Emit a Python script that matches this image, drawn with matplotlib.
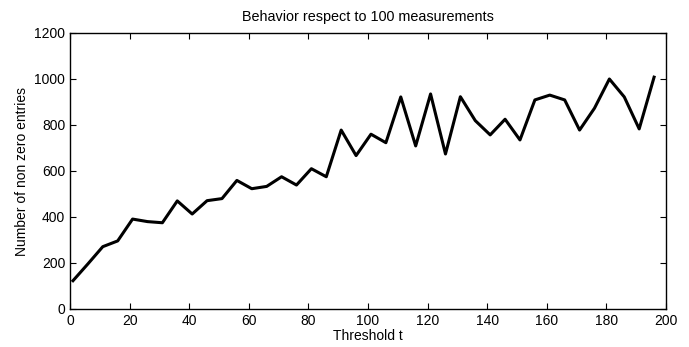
import matplotlib
matplotlib.use('Agg')
import matplotlib.pyplot as plt

plt.rcParams['font.family'] = ['Liberation Sans', 'DejaVu Sans']

# 数据
thresholds = list(range(1, 200, 5))
nonzero = [123, 196, 271, 296, 391, 380, 375, 470, 413, 471,
           480, 559, 523, 533, 575, 539, 610, 575, 778, 667,
           760, 723, 922, 709, 935, 674, 923, 819, 757, 825,
           735, 909, 930, 909, 778, 873, 1000, 922, 783, 1008]

fig = plt.figure(figsize=(6.89, 3.47), dpi=100)
ax = fig.add_axes([70 / 689, 1 - 309 / 347, 596 / 689, 276 / 347])
ax.plot(thresholds, nonzero, color='black', linewidth=2.2)
ax.set_xlim(0, 200)
ax.set_ylim(0, 1200)
ax.set_xticks(range(0, 201, 20))
ax.set_yticks(range(0, 1201, 200))
ax.tick_params(direction='in', top=True, right=True, length=4, labelsize=10)
for s in ax.spines.values():
    s.set_linewidth(1.0)
ax.set_title('Behavior respect to 100 measurements', fontsize=10.4, pad=9)
ax.set_xlabel('Threshold t', fontsize=10, labelpad=1)
ax.set_ylabel('Number of non zero entries', fontsize=10)
plt.savefig('out.png')
